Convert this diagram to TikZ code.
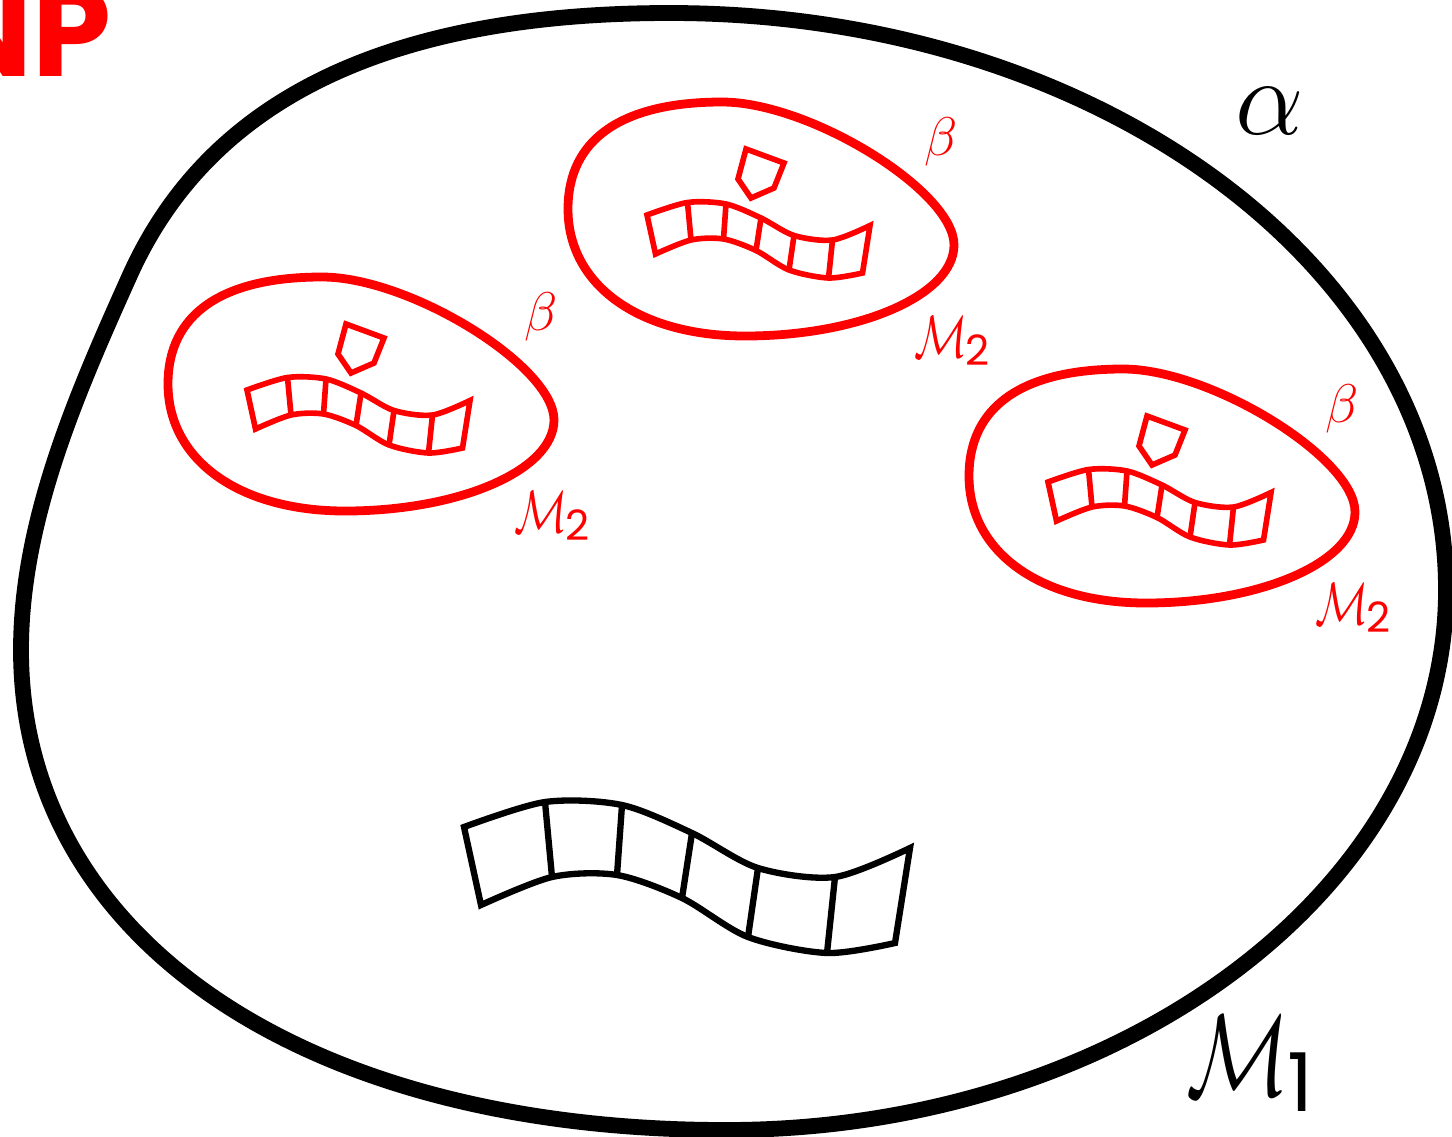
\documentclass[tikz,border=0pt]{standalone}
\usepackage{fix-cm}
\usepackage{fontspec}
\usepackage{graphicx}
\usepackage{tikz}
\usetikzlibrary{positioning}
\definecolor{setred}{RGB}{255,0,0}
\newfontfamily\poppins{Poppins}
\newcommand{\manifold}[1]{\scalebox{0.74}[1]{$\mathcal{M}$}\kern-0.02em\raisebox{-0.14em}{\scalebox{0.7}{\poppins #1}}}

\tikzset{
  ribbon/.pic={
    \coordinate (t0) at (0,0);    \coordinate (b0) at (17,78);
    \coordinate (t1) at (81,-25); \coordinate (b1) at (88,50);
    \coordinate (t2) at (158,-22);\coordinate (b2) at (153,48);
    \coordinate (t3) at (228,6);  \coordinate (b3) at (218,71);
    \coordinate (t4) at (294,41); \coordinate (b4) at (284,110);
    \coordinate (t5) at (371,50); \coordinate (b5) at (363,126);
    \coordinate (t6) at (446,21); \coordinate (b6) at (431,116);
    \draw plot[smooth] coordinates {(t0) (t1) (t2) (t3) (t4) (t5) (t6)}
      -- plot[smooth] coordinates {(b6) (b5) (b4) (b3) (b2) (b1) (b0)} -- cycle;
    \foreach \i in {1,...,5} \draw (t\i) -- (b\i);
  },
  cluster/.pic={
    \draw[setline] (-79,-6) .. controls (-79,-76) and (-25,-113) .. (75,-113)
      .. controls (163,-113) and (307,-24) .. (307,30)
      .. controls (307,80) and (213,121) .. (98,121)
      .. controls (-8,121) and (-79,70) .. cycle;
    \pic[cellline,scale=0.5] at (0,0) {ribbon};
    \draw[cellline] (99,-66) -- (137,-52) -- (127,-27) -- (104,-17) -- (91,-36) -- cycle;
    \node[setred,font=\fontsize{31}{31}\selectfont] (beta) at (294,-73) {$\beta$};
    \node[setred,font=\fontsize{34}{34}\selectfont] (mtwo) at (305,126) {\manifold{2}};
  }
}

\begin{document}
\begin{tikzpicture}[x=0.02cm,y=-0.02cm,
    outline/.style={line width=9pt},
    setline/.style={setred,line width=5pt},
    cellline/.style={setred,line width=3.2pt},
    blackcell/.style={black,line width=3.6pt}
  ]
  \useasboundingbox (0,0) rectangle (1452,1136);

  % outer region
  \draw[outline] (21,650) .. controls (21,520) and (77,393) .. (130,275)
    .. controls (204,111) and (370,13) .. (670,13)
    .. controls (1100,13) and (1446,270) .. (1446,590)
    .. controls (1446,887) and (1122,1130) .. (726,1130)
    .. controls (303,1130) and (21,938) .. cycle;

  \pic (west-) at (247,390) {cluster};
  \pic (mid-) at (647,215) {cluster};
  \pic (east-) at (1048,482) {cluster};

  \pic[blackcell] at (464,827) {ribbon};

  \node[font=\fontsize{62}{62}\selectfont] (alpha) at (1270,111) {$\alpha$};
  \node[font=\fontsize{66}{66}\selectfont] (mone) at (1250,1064) {\manifold{1}};
  \node[setred,anchor=base east,inner sep=0pt,
    font=\fontsize{72}{72}\selectfont\poppins\bfseries] (np) at (112,76) {NP};
\end{tikzpicture}
\end{document}
